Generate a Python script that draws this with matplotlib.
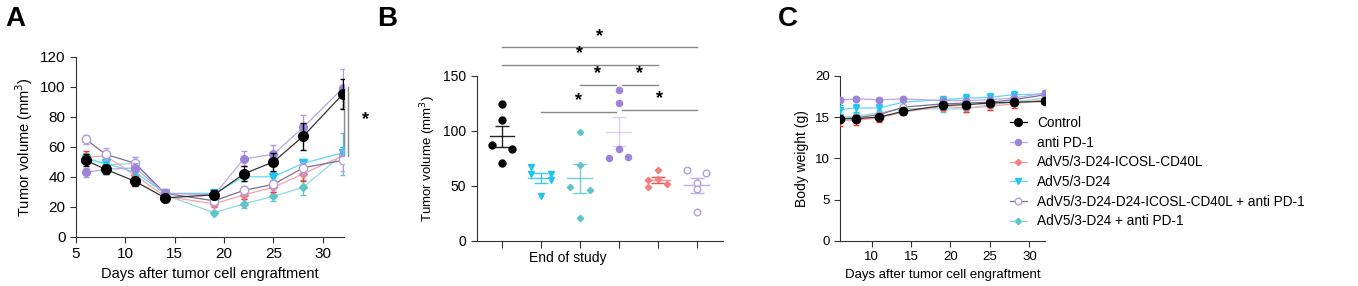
import numpy as np
import matplotlib.pyplot as plt

plt.rcParams['font.family'] = ['Liberation Sans', 'DejaVu Sans']

days = [6, 8, 11, 14, 19, 22, 25, 28, 32]
groups = ["Control", "anti PD-1", "AdV5/3-D24-ICOSL-CD40L", "AdV5/3-D24",
          "AdV5/3-D24-D24-ICOSL-CD40L + anti PD-1", "AdV5/3-D24 + anti PD-1"]

# panel A: tumor volume mean / sem
vol_mean = {
    "Control": [51, 45, 37, 26, 28, 42, 50, 67, 95],
    "anti PD-1": [43, 45, 46, 29, 28, 52, 55, 73, 99],
    "AdV5/3-D24-ICOSL-CD40L": [53, 54, 41, 27, 22, 28, 33, 42, 54],
    "AdV5/3-D24": [52, 49, 43, 29, 29, 40, 40, 49, 56],
    "AdV5/3-D24-D24-ICOSL-CD40L + anti PD-1": [65, 55, 49, 29, 24, 31, 35, 46, 51],
    "AdV5/3-D24 + anti PD-1": [53, 48, 49, 28, 16, 22, 27, 33, 55],
}
vol_sem = {
    "Control": [4, 3, 3, 2, 3, 5, 6, 9, 10],
    "anti PD-1": [3, 3, 3, 2, 2, 5, 6, 8, 13],
    "AdV5/3-D24-ICOSL-CD40L": [4, 3, 3, 2, 2, 3, 3, 5, 3],
    "AdV5/3-D24": [3, 2, 3, 2, 2, 3, 3, 3, 4],
    "AdV5/3-D24-D24-ICOSL-CD40L + anti PD-1": [3, 4, 4, 3, 2, 3, 3, 4, 7],
    "AdV5/3-D24 + anti PD-1": [3, 2, 4, 2, 1, 3, 3, 5, 14],
}

# panel C: body weight mean / sem
bw_mean = {
    "Control": [14.8, 14.8, 15.0, 15.7, 16.4, 16.5, 16.7, 16.8, 16.9],
    "anti PD-1": [17.1, 17.2, 17.1, 17.2, 17.0, 17.0, 17.1, 17.3, 17.9],
    "AdV5/3-D24-ICOSL-CD40L": [14.6, 14.6, 14.9, 15.6, 16.3, 16.1, 16.3, 16.6, 17.1],
    "AdV5/3-D24": [15.9, 16.1, 16.1, 16.8, 17.1, 17.3, 17.4, 17.7, 17.8],
    "AdV5/3-D24-D24-ICOSL-CD40L + anti PD-1": [14.8, 14.9, 15.3, 16.2, 16.6, 16.7, 16.8, 17.1, 17.7],
    "AdV5/3-D24 + anti PD-1": [15.0, 15.1, 15.5, 16.0, 16.0, 16.0, 16.5, 16.8, 17.3],
}
bw_sem = {
    "Control": [0.3, 0.4, 0.3, 0.3, 0.3, 0.3, 0.3, 0.3, 0.2],
    "anti PD-1": [0.2, 0.2, 0.2, 0.2, 0.2, 0.2, 0.2, 0.3, 0.3],
    "AdV5/3-D24-ICOSL-CD40L": [0.7, 0.6, 0.5, 0.4, 0.4, 0.5, 0.5, 0.5, 0.3],
    "AdV5/3-D24": [0.5, 0.5, 0.5, 0.4, 0.4, 0.5, 0.5, 0.5, 0.4],
    "AdV5/3-D24-D24-ICOSL-CD40L + anti PD-1": [0.3, 0.3, 0.3, 0.3, 0.3, 0.3, 0.3, 0.3, 0.3],
    "AdV5/3-D24 + anti PD-1": [0.4, 0.4, 0.4, 0.4, 0.4, 0.4, 0.4, 0.4, 0.4],
}

# panel B: end of study individual values, in plotted order
b_groups = ["Control", "AdV5/3-D24", "AdV5/3-D24 + anti PD-1", "anti PD-1",
            "AdV5/3-D24-ICOSL-CD40L", "AdV5/3-D24-D24-ICOSL-CD40L + anti PD-1"]
b_values = [
    [124, 110, 87, 83, 71],
    [67, 61, 61, 55, 41],
    [99, 69, 49, 46, 21],
    [137, 125, 83, 75, 76],
    [64, 56, 55, 52, 49],
    [64, 62, 53, 47, 26],
]
b_jitter = [
    [0, 0, -0.25, 0.25, 0],
    [-0.25, -0.25, 0.25, 0.25, 0],
    [0, 0, -0.25, 0.25, 0],
    [0, 0, 0, -0.25, 0.25],
    [0, 0, -0.25, 0.25, -0.25],
    [-0.25, 0.25, 0, 0, 0],
]
# (left, right, height, star height)
b_sig = [(0, 5, 176, 186), (0, 4, 160, 170), (2, 2.92, 142, 152), (3.08, 4, 142, 152),
         (1, 2.92, 117, 127), (3.08, 5, 119, 129)]

style = {
    "Control": dict(color="black", marker="o", ms=7, mfc="black", lc="#333333", ec="black"),
    "anti PD-1": dict(color="#9c84da", marker="o", ms=5.5, mfc="#9c84da", lc="#b8a6e6", ec="#b39ddf"),
    "AdV5/3-D24-ICOSL-CD40L": dict(color="#f47f82", marker="D", ms=4, mfc="#f47f82", lc="#f7a3a5", ec="#ff3030"),
    "AdV5/3-D24": dict(color="#22c4f2", marker="v", ms=5.5, mfc="#22c4f2", lc="#62d6f7", ec="#22c4f2"),
    "AdV5/3-D24-D24-ICOSL-CD40L + anti PD-1": dict(color="#b3a0e0", marker="o", ms=6, mfc="white", lc="#7e6e96", ec="#b3a0e0"),
    "AdV5/3-D24 + anti PD-1": dict(color="#5ec6c8", marker="D", ms=4, mfc="#5ec6c8", lc="#90dadb", ec="#5ec6c8"),
}
draw_order = ["AdV5/3-D24 + anti PD-1", "AdV5/3-D24-ICOSL-CD40L", "AdV5/3-D24",
              "AdV5/3-D24-D24-ICOSL-CD40L + anti PD-1", "anti PD-1", "Control"]

fig = plt.figure(figsize=(13.58, 2.86), dpi=100)
axA = fig.add_axes([0.056, 0.172, 0.197, 0.629])
axB = fig.add_axes([0.351, 0.158, 0.1814, 0.577])
axC = fig.add_axes([0.6186, 0.158, 0.151, 0.577])

for ax in (axA, axB, axC):
    for s in ("top", "right"):
        ax.spines[s].set_visible(False)
    ax.spines["left"].set_color("#333333")
    ax.spines["bottom"].set_color("#333333")
    ax.tick_params(labelsize=10, length=4, color="#333333")
axA.tick_params(labelsize=11)
axC.tick_params(labelsize=9.5)

# ---- A
for z, g in enumerate(draw_order):
    st = style[g]
    axA.errorbar(days, vol_mean[g], yerr=vol_sem[g], fmt="none", ecolor=st["ec"],
                 elinewidth=1, capsize=2.5, capthick=1, zorder=2 + z)
    axA.plot(days, vol_mean[g], color=st["lc"], lw=0.9, zorder=2 + z)
    axA.plot(days, vol_mean[g], ls="none", marker=st["marker"], ms=st["ms"],
             mfc=st["mfc"], mec=st["color"], mew=1, zorder=2 + z)
axA.set_xlim(5, 32.1)
axA.set_ylim(0, 120)
axA.set_xticks([5, 10, 15, 20, 25, 30])
axA.set_yticks(range(0, 121, 20))
axA.set_xlabel("Days after tumor cell engraftment", fontsize=10.5)
axA.set_ylabel("Tumor volume (mm$^3$)", fontsize=10.5)
axA.plot([32.1, 32.1], [54, 101], color="#888888", lw=1, clip_on=False)
axA.plot([32.55, 32.55], [54, 100], color="#888888", lw=1, clip_on=False)
axA.text(34.3, 78, "*", fontsize=13, fontweight="bold", ha="center", va="center")

# ---- B
for i, g in enumerate(b_groups):
    st = style[g]
    vals = np.array(b_values[i], dtype=float)
    xs = i + np.array(b_jitter[i])
    axB.plot(xs, vals, ls="none", marker=st["marker"], ms=st["ms"] * 0.8 if g != "Control" else 5,
             mfc=st["mfc"], mec=st["color"], mew=1, zorder=3)
    m = vals.mean()
    se = vals.std(ddof=1) / np.sqrt(len(vals))
    axB.plot([i - 0.32, i + 0.32], [m, m], color=st["ec"] if g != "AdV5/3-D24-ICOSL-CD40L" else st["color"],
             lw=1, alpha=0.85 if g != "anti PD-1" else 0.45, zorder=2)
    axB.errorbar([i], [m], yerr=[se], fmt="none", capsize=5, elinewidth=1, capthick=1,
                 ecolor=st["ec"] if g != "AdV5/3-D24-ICOSL-CD40L" else "#ff3030",
                 alpha=0.85 if g != "anti PD-1" else 0.45, zorder=2)
axB.set_xlim(-0.65, 5.68)
axB.set_ylim(0, 150)
axB.set_yticks([0, 50, 100, 150])
axB.set_xticks(range(6))
axB.set_xticklabels([])
axB.tick_params(axis="x", length=5)
axB.set_ylabel("Tumor volume (mm$^3$)", fontsize=9.5)
axB.text(0.37, -0.105, "End of study", transform=axB.transAxes, fontsize=10,
         ha="center", va="center")
for x0, x1, y, ys in b_sig:
    axB.plot([x0, x1], [y, y], color="#888888", lw=1, clip_on=False)
    axB.text((x0 + x1) / 2, ys, "*", fontsize=13, fontweight="bold", ha="center",
             va="center", clip_on=False)

# ---- C
for z, g in enumerate(draw_order):
    st = style[g]
    axC.errorbar(days, bw_mean[g], yerr=bw_sem[g], fmt="none", ecolor=st["ec"],
                 elinewidth=1, capsize=2.5, capthick=1, zorder=2 + z)
    axC.plot(days, bw_mean[g], color=st["lc"], lw=0.9, zorder=2 + z)
    axC.plot(days, bw_mean[g], ls="none", marker=st["marker"], ms=st["ms"] * 0.85,
             mfc=st["mfc"], mec=st["color"], mew=1, zorder=2 + z)
axC.set_xlim(6, 32)
axC.set_ylim(0, 20)
axC.set_xticks([10, 15, 20, 25, 30])
axC.set_yticks([0, 5, 10, 15, 20])
axC.set_xlabel("Days after tumor cell engraftment", fontsize=9.5)
axC.set_ylabel("Body weight (g)", fontsize=10)

handles = []
for g in groups:
    st = style[g]
    h, = axC.plot([], [], color=st["lc"] if g != "Control" else "black", lw=0.9,
                  marker=st["marker"], ms=st["ms"] * 0.8, mfc=st["mfc"], mec=st["color"], mew=1)
    handles.append(h)
axC.legend(handles, groups, loc="upper left", bbox_to_anchor=(0.8, 0.79), frameon=False,
           fontsize=9.8, handlelength=1.3, handletextpad=0.7,
           labelspacing=0.42, borderaxespad=0)

# panel letters
fig.text(0.004, 0.935, "A", fontsize=20, fontweight="bold", va="center")
fig.text(0.278, 0.935, "B", fontsize=20, fontweight="bold", va="center")
fig.text(0.573, 0.935, "C", fontsize=20, fontweight="bold", va="center")

fig.savefig("out.png", dpi=100)
